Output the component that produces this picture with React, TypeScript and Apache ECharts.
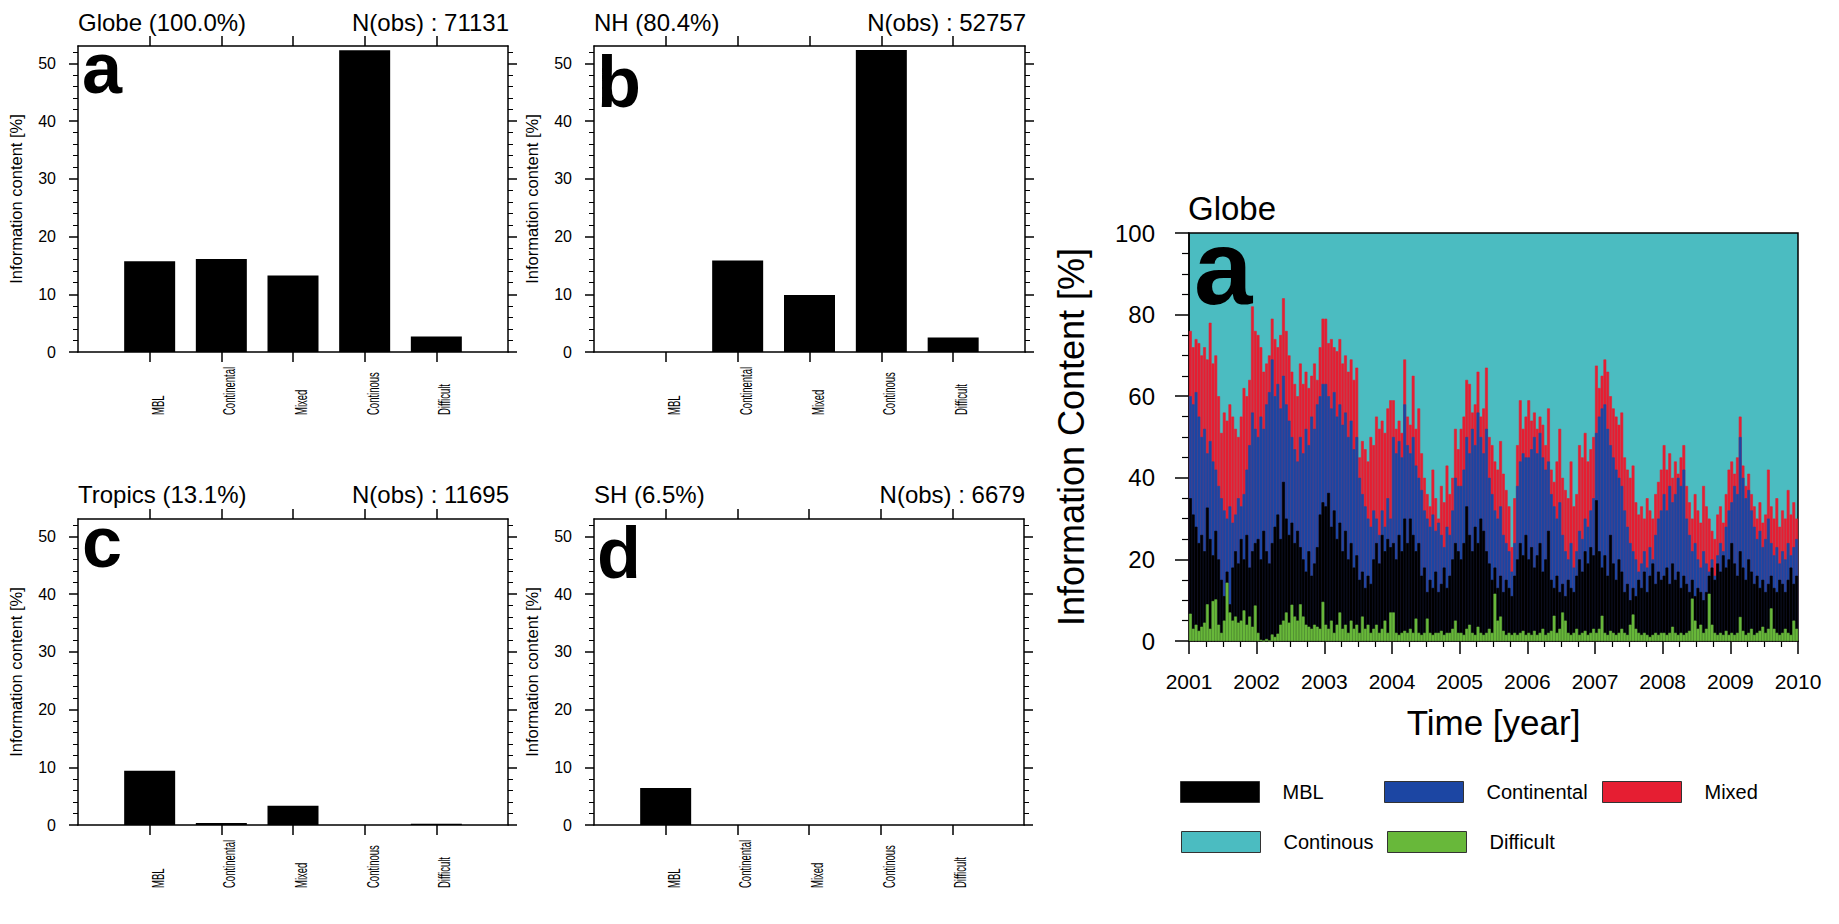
import React, { useEffect, useRef } from 'react';
import * as echarts from 'echarts';

// ---------------- data ----------------
const categories = ['MBL', 'Continental', 'Mixed', 'Continous', 'Difficult'];
const globeShares = [15.7, 16.1, 13.25, 52.25, 2.7];
const nhShares = [0, 15.85, 9.86, 52.3, 2.53];
const tropicsShares = [9.38, 0.35, 3.33, 0, 0.2];
const shShares = [6.39, 0, 0, 0, 0];
const barTickValues = [0, 10, 20, 30, 40, 50];

const panelTitles = ['Globe (100.0%)', 'NH (80.4%)', 'Tropics (13.1%)', 'SH (6.5%)'];
const panelObs = ['N(obs) : 71131', 'N(obs) : 52757', 'N(obs) : 11695', 'N(obs) : 6679'];
const panelLetters = ['a', 'b', 'c', 'd'];

const tsTitle = 'Globe';
const tsLetter = 'a';
const startYear = 2001;
const endYear = 2010;
const periodsPerYear = 24; // half-month periods

// cumulative upper boundaries read from the time series (half-monthly, 2001-2009)
const mixedTop = [
  76, 72, 74, 73, 70, 72, 69, 78, 68, 70, 60, 51, 56, 54, 58, 55, 52, 50, 55, 62, 60, 64, 82, 76,
  75, 72, 66, 68, 70, 79, 74, 72, 75, 84, 76, 70, 66, 63, 60, 68, 63, 66, 62, 65, 68, 64, 72, 79,
  79, 73, 74, 72, 71, 74, 68, 70, 66, 69, 64, 67, 45, 49, 47, 44, 50, 48, 55, 52, 54, 51, 57, 59,
  59, 52, 54, 51, 69, 55, 53, 65, 52, 57, 46, 40, 36, 33, 42, 35, 30, 38, 34, 43, 36, 40, 52, 47,
  52, 55, 64, 63, 56, 58, 66, 55, 57, 67, 50, 48, 44, 42, 49, 41, 37, 33, 23, 35, 48, 59, 52, 55,
  59, 54, 56, 52, 55, 53, 48, 57, 42, 39, 44, 52, 40, 37, 35, 44, 33, 36, 48, 45, 51, 44, 47, 50,
  67.5, 62, 65, 69, 66, 60, 57, 55, 53, 56, 45, 42, 40, 43, 34, 31, 33, 30, 35, 32, 30, 36, 39, 42,
  48, 42, 46, 40, 44, 41, 45, 48, 38, 34, 30, 36, 32, 29, 38, 33, 30, 27, 25, 31, 33, 29, 36, 42,
  44, 41, 45, 55, 43, 38, 41, 36, 33, 30, 34, 29, 31, 42, 33, 30, 35, 28, 32, 30, 37, 31, 34, 30,
];
const continentalTop = [
  60, 58, 61, 55, 50, 52, 46, 49, 44, 42, 38, 35, 32, 30, 33, 29, 31, 35, 33, 36, 42, 48, 56, 52,
  50, 55, 52, 58, 61, 69, 60, 63, 57, 65, 58, 54, 50, 47, 44, 50, 46, 52, 48, 55, 52, 58, 60, 63,
  63, 60, 57, 61, 55, 58, 53, 56, 50, 54, 47, 50, 40, 36, 33, 30, 28, 32, 30, 26, 32, 28, 35, 30,
  50, 46, 49, 45, 58, 48, 46, 50, 43, 40, 37, 32, 30, 28, 31, 27, 29, 26, 23, 28, 26, 32, 40, 38,
  38, 42, 50, 46, 52, 48, 56, 50, 46, 52, 40, 36, 32, 30, 33, 26, 24, 22, 17, 24, 38, 44, 46, 45,
  45, 47, 50, 46, 51, 45, 42, 44, 36, 33, 30, 34, 26, 22, 20, 24, 18, 22, 27, 25, 30, 28, 32, 35,
  51, 55, 57, 58, 52, 48, 45, 42, 40, 38, 32, 28, 24, 22, 20, 17, 19, 22, 18, 23, 20, 26, 30, 32,
  36, 32, 38, 34, 36, 40, 38, 42, 30, 26, 22, 24, 20, 18, 22, 19, 17, 20, 16, 21, 24, 22, 28, 32,
  34, 38, 36, 50, 40, 35, 37, 32, 28, 25, 27, 23, 25, 30, 24, 21, 23, 19, 22, 20, 24, 21, 23, 25,
];
const mblTop = [
  35, 31, 28, 24, 26, 22, 32.7, 25, 21, 27, 20, 15, 11, 17, 9, 18, 22, 19, 25, 20, 26, 18, 22, 24,
  25, 20, 27, 22, 19, 24, 28, 31, 25, 39, 30, 26, 29, 24, 27, 23, 20, 17, 22, 16, 19, 23, 31, 34,
  33, 36.3, 28, 32, 25, 29, 22, 27, 20, 24, 18, 21, 15, 17, 13, 16, 14, 20, 24, 19, 26, 22, 25, 23,
  24, 20, 26, 22, 30, 24, 30, 26, 22, 24, 16, 18, 12, 15, 13, 17, 12, 14, 18, 13, 16, 20, 24, 22,
  20, 24, 33, 26, 22, 28, 24, 30, 27, 22, 19, 15, 18, 13, 16, 12, 15, 13, 11, 16, 20, 24, 21, 26,
  20, 23, 18, 21, 24, 17, 20, 27, 15, 13, 16, 12, 14, 11, 15, 13, 12, 16, 20, 17, 22, 19, 23, 21,
  34.5, 22, 18, 21, 16, 26, 19, 15, 20, 17, 12, 14, 10, 13, 11, 15, 13, 17, 12, 16, 19, 14, 17, 15,
  16, 18, 14, 19, 15, 17, 13, 16, 14, 12, 15, 11, 13, 12, 10, 12, 16, 18, 15, 19, 17, 21, 18, 20,
  24, 19, 16, 22, 18, 15, 20, 17, 14, 16, 13, 15, 12, 14, 16, 13, 12, 15, 14, 12, 15, 18, 14, 16,
];
const difficultTop = [
  6.7, 3, 4, 2.5, 3.5, 4.5, 9, 3, 9.8, 10.2, 4, 2, 5, 14.3, 7, 5, 6, 4.5, 5, 7.5, 4, 6, 3.5, 8.7,
  2, 0.3, 0, 0.5, 0, 1.6, 1, 1.8, 4, 5, 7, 4.5, 8.9, 6, 5, 9, 6, 4, 3.5, 3, 4, 3.5, 3, 9.6,
  4, 3, 5, 2, 4, 7, 3, 4, 2, 5, 3, 4, 2, 6, 3, 4, 2, 3, 4, 2, 3, 5, 2, 7,
  7, 2, 1.5, 2, 2.5, 2, 3, 2, 5.5, 2, 1.5, 2, 5.5, 2, 1.5, 2, 2, 2.5, 1.5, 2, 2, 3, 5, 2,
  2, 1.5, 3, 4, 2, 1.5, 3.5, 2, 1.5, 2, 3, 2, 11.6, 5, 6, 2.5, 1.5, 2, 1.5, 2, 1.5, 2, 2.5, 1.5,
  2, 1.5, 2.5, 1.5, 2, 3, 1.5, 2, 2.5, 6.2, 2, 3, 7, 5, 2, 1.5, 2, 3, 1.5, 2, 2.5, 1.5, 2, 3,
  2, 3, 6.2, 2, 1.5, 2.5, 2, 1.5, 2, 3, 2, 1.5, 4, 6.5, 3, 2, 1.5, 2, 1.5, 1, 1.5, 2, 1.5, 2,
  2, 1.5, 2, 3.5, 2, 1.5, 2, 1.5, 2, 2.5, 10.4, 5, 3, 4, 2, 3, 11.6, 4, 2, 1.5, 2, 1.5, 2.5, 1.5,
  2, 1.5, 2, 5.9, 2.5, 1.5, 2, 3, 1.5, 2, 2.5, 3.5, 2, 3, 8, 3, 2, 1.5, 2, 3, 2, 1.5, 5, 3,
];

// ---------------- styles / layout ----------------
const SANS = '"Liberation Sans", Arial, Helvetica, sans-serif';
const BLACK = '#000000';
const COLORS: Record<string, string> = {
  MBL: '#000000',
  Continental: '#1c46a3',
  Mixed: '#e61e32',
  Continous: '#4bbcc1',
  Difficult: '#68b83a',
};

const barLayout = [
  { left: 78, top: 46, width: 430, height: 306, titleTop: 10, letterX: 82, letterTop: 43 },
  { left: 594, top: 46, width: 431, height: 306, titleTop: 10, letterX: 597, letterTop: 57 },
  { left: 78, top: 519, width: 430, height: 306, titleTop: 482, letterX: 82, letterTop: 517 },
  { left: 594, top: 519, width: 430, height: 306, titleTop: 482, letterX: 597, letterTop: 528 },
];
const tsLayout = { left: 1189, top: 233, width: 609, height: 408 };
const catLabelGap = 63; // distance of the label start below the x axis
const catLabelFont = 17;
const catLabelCondense = 0.56;

const legendLayout = [
  { name: 'MBL', left: 1180, top: 781 },
  { name: 'Continental', left: 1384, top: 781 },
  { name: 'Mixed', left: 1602, top: 781 },
  { name: 'Continous', left: 1181, top: 831 },
  { name: 'Difficult', left: 1387, top: 831 },
];

function buildOption(): any {
  const panelValues = [globeShares, nhShares, tropicsShares, shShares];
  const paddedCats = ['', ...categories, ''];
  const inner = (i: number) => i > 0 && i < paddedCats.length - 1;
  const axisLine = { show: true, onZero: false, lineStyle: { color: BLACK, width: 1.5 } };

  const grid: any[] = barLayout.map((l) => ({
    left: l.left, top: l.top, width: l.width, height: l.height,
    show: false, containLabel: false, outerBoundsMode: 'none',
  }));
  grid.push({
    ...tsLayout, show: true, backgroundColor: COLORS.Continous,
    borderColor: BLACK, borderWidth: 1.5, containLabel: false, outerBoundsMode: 'none',
  });

  const xAxis: any[] = [];
  const yAxis: any[] = [];
  const series: any[] = [];

  barLayout.forEach((_, i) => {
    xAxis.push({
      type: 'category', gridIndex: i, position: 'bottom', data: paddedCats, boundaryGap: false,
      axisLine,
      axisTick: { show: true, inside: false, length: 10, interval: (idx: number) => inner(idx), lineStyle: { color: BLACK, width: 1.5 } },
      axisLabel: { show: false },
      splitLine: { show: false },
    });
    xAxis.push({
      type: 'category', gridIndex: i, position: 'top', data: paddedCats, boundaryGap: false,
      axisLine,
      axisTick: { show: true, inside: false, length: 10, interval: (idx: number) => inner(idx), lineStyle: { color: BLACK, width: 1.5 } },
      axisLabel: { show: false },
      splitLine: { show: false },
    });
    const yCommon = {
      type: 'value', gridIndex: i, min: 0, max: 53, interval: 10,
      axisLine,
      axisTick: { show: true, inside: false, length: 9, customValues: barTickValues, lineStyle: { color: BLACK, width: 1.5 } },
      minorTick: { show: true, splitNumber: 5, length: 5, lineStyle: { color: BLACK, width: 1 } },
      splitLine: { show: false },
      minorSplitLine: { show: false },
    };
    yAxis.push({
      ...yCommon, position: 'left',
      axisLabel: {
        show: true, margin: 22, fontSize: 16, fontFamily: SANS, color: BLACK,
        customValues: barTickValues,
        formatter: (v: number) => (v % 10 === 0 ? String(v) : ''),
      },
      name: 'Information content [%]', nameLocation: 'middle', nameGap: 54,
      nameTextStyle: { fontSize: 16.5, fontFamily: SANS, color: BLACK },
    });
    yAxis.push({ ...yCommon, position: 'right', axisLabel: { show: false } });

    series.push({
      type: 'bar', name: 'panel-' + panelLetters[i], xAxisIndex: 2 * i, yAxisIndex: 2 * i,
      data: ['-', ...panelValues[i], '-'], barWidth: 51, silent: true,
      itemStyle: { color: BLACK },
    });
  });

  // time-series panel
  const periodLabels = mixedTop.map((_, k) => {
    const y = startYear + Math.floor(k / periodsPerYear);
    const half = k % periodsPerYear;
    return `${y}-${String(Math.floor(half / 2) + 1).padStart(2, '0')}${half % 2 ? 'b' : 'a'}`;
  });
  const tsCatIndex = xAxis.length;
  xAxis.push({ type: 'category', gridIndex: 4, position: 'top', data: periodLabels, show: false, boundaryGap: true });
  xAxis.push({
    type: 'value', gridIndex: 4, position: 'bottom', min: startYear, max: endYear, interval: 1,
    axisLine,
    axisTick: { show: true, inside: false, length: 13, lineStyle: { color: BLACK, width: 1.5 } },
    minorTick: { show: true, splitNumber: 4, length: 6, lineStyle: { color: BLACK, width: 1.2 } },
    axisLabel: { margin: 30, fontSize: 21, fontFamily: SANS, color: BLACK, formatter: (v: number) => String(v) },
    splitLine: { show: false }, minorSplitLine: { show: false },
    name: 'Time [year]', nameLocation: 'middle', nameGap: 64,
    nameTextStyle: { fontSize: 35, fontFamily: SANS, color: BLACK },
  });
  const tsYIndex = yAxis.length;
  yAxis.push({
    type: 'value', gridIndex: 4, position: 'left', min: 0, max: 100, interval: 20,
    axisLine,
    axisTick: { show: true, inside: false, length: 14, lineStyle: { color: BLACK, width: 1.5 } },
    minorTick: { show: true, splitNumber: 4, length: 7, lineStyle: { color: BLACK, width: 1.2 } },
    axisLabel: { margin: 34, fontSize: 24, fontFamily: SANS, color: BLACK },
    splitLine: { show: false }, minorSplitLine: { show: false },
    name: 'Information Content [%]', nameLocation: 'middle', nameGap: 100,
    nameTextStyle: { fontSize: 36, fontFamily: SANS, color: BLACK },
  });

  const tsSeries: [string, number[]][] = [
    ['Continous', []],
    ['Mixed', mixedTop],
    ['Continental', continentalTop],
    ['MBL', mblTop],
    ['Difficult', difficultTop],
  ];
  tsSeries.forEach(([name, data]) => {
    series.push({
      type: 'bar', name, xAxisIndex: tsCatIndex, yAxisIndex: tsYIndex, data,
      barGap: '-100%', barCategoryGap: '0%', silent: true,
      itemStyle: { color: COLORS[name], borderColor: COLORS[name], borderWidth: 0.6 },
    });
  });

  const legend = legendLayout.map((l) => ({
    data: [l.name], left: l.left, top: l.top, orient: 'horizontal', padding: 0,
    itemWidth: 79, itemHeight: 21, icon: 'rect', selectedMode: false,
    itemStyle: { borderColor: '#333333', borderWidth: 1 },
    textStyle: { fontSize: 20, fontFamily: SANS, color: BLACK, padding: [0, 0, 0, 18] },
  }));

  const graphic: any[] = [];
  barLayout.forEach((l, i) => {
    graphic.push({
      type: 'text', id: 'title-' + i, x: l.left, y: l.titleTop, z: 100,
      style: { text: panelTitles[i], fontSize: 24, fontFamily: SANS, fill: BLACK, align: 'left', verticalAlign: 'top', textAlign: 'left', textVerticalAlign: 'top' },
    });
    graphic.push({
      type: 'text', id: 'obs-' + i, x: l.left + l.width + 1, y: l.titleTop, z: 100,
      style: { text: panelObs[i], fontSize: 24, fontFamily: SANS, fill: BLACK, align: 'right', verticalAlign: 'top', textAlign: 'right', textVerticalAlign: 'top' },
    });
    graphic.push({
      type: 'text', id: 'letter-' + i, x: l.letterX, y: l.letterTop, z: 100,
      style: { text: panelLetters[i], fontSize: 72, lineHeight: 50, fontWeight: 'bold', fontFamily: SANS, fill: BLACK, align: 'left', verticalAlign: 'top', textAlign: 'left', textVerticalAlign: 'top' },
    });
  });
  graphic.push({
    type: 'text', id: 'ts-title', x: 1188, y: 192, z: 100,
    style: { text: tsTitle, fontSize: 33, fontFamily: SANS, fill: BLACK, align: 'left', verticalAlign: 'top', textAlign: 'left', textVerticalAlign: 'top' },
  });
  graphic.push({
    type: 'text', id: 'ts-letter', x: 1194, y: 237, z: 100,
    style: { text: tsLetter, fontSize: 105, lineHeight: 60, fontWeight: 'bold', fontFamily: SANS, fill: BLACK, align: 'left', verticalAlign: 'top', textAlign: 'left', textVerticalAlign: 'top' },
  });

  return {
    animation: false,
    backgroundColor: '#ffffff',
    textStyle: { fontFamily: SANS },
    grid, xAxis, yAxis, series, legend, graphic,
  };
}

// condensed, rotated category labels placed at the category axis positions
function categoryLabelGraphics(chart: any): any[] {
  const out: any[] = [];
  barLayout.forEach((_, i) => {
    const baseY = chart.convertToPixel({ yAxisIndex: 2 * i }, 0);
    categories.forEach((c, j) => {
      const px = chart.convertToPixel({ xAxisIndex: 2 * i }, c);
      out.push({
        type: 'text', id: `cat-${i}-${j}`, x: px, y: baseY + catLabelGap,
        rotation: Math.PI / 2, scaleX: catLabelCondense, scaleY: 1, z: 100,
        style: {
          text: c, fontSize: catLabelFont, fontFamily: SANS, fill: BLACK,
          align: 'left', verticalAlign: 'top', textAlign: 'left', textVerticalAlign: 'top',
        },
      });
    });
  });
  return out;
}

export default function App() {
  const ref = useRef<HTMLDivElement>(null);
  useEffect(() => {
    if (!ref.current) return;
    const chart = echarts.init(ref.current, null, { renderer: 'svg' });
    const option = buildOption();
    chart.setOption(option);
    chart.setOption({ graphic: [...option.graphic, ...categoryLabelGraphics(chart)] });
    return () => chart.dispose();
  }, []);
  return (
    <div
      ref={ref}
      style={{ position: 'absolute', left: 0, top: 0, width: 1839, height: 924, background: '#ffffff' }}
    />
  );
}
